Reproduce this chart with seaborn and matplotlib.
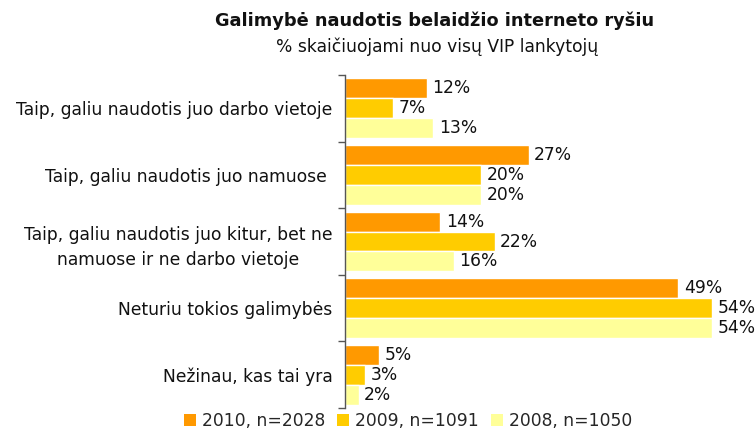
import matplotlib
matplotlib.use("Agg")
import matplotlib.pyplot as plt
import seaborn as sns
import pandas as pd
from matplotlib.patches import Patch

categories = [
    "Taip, galiu naudotis juo darbo vietoje",
    "Taip, galiu naudotis juo namuose ",
    "Taip, galiu naudotis juo kitur, bet ne\nnamuose ir ne darbo vietoje",
    "Neturiu tokios galimybės",
    "Nežinau, kas tai yra",
]
series_names = ["2010, n=2028", "2009, n=1091", "2008, n=1050"]
values_2010 = [12, 27, 14, 49, 5]
values_2009 = [7, 20, 22, 54, 3]
values_2008 = [13, 20, 16, 54, 2]
colors = ["#FF9900", "#FFCC00", "#FFFF99"]

rows = []
for name, vals in zip(series_names, [values_2010, values_2009, values_2008]):
    for c, v in zip(categories, vals):
        rows.append({"cat": c, "series": name, "val": v})
df = pd.DataFrame(rows)

sns.set_theme(style="white")
plt.rcParams["font.family"] = ["DejaVu Sans"]

fig = plt.figure(figsize=(7.55, 4.32), dpi=100)
ax = fig.add_axes([345 / 755, 1 - 408 / 432, 408 / 755, 333 / 432])

sns.barplot(data=df, y="cat", x="val", hue="series", order=categories,
            hue_order=series_names, palette=colors, saturation=1, orient="h", width=0.9,
            edgecolor="white", linewidth=1, ax=ax, legend=False)

for cont in ax.containers:
    ax.bar_label(cont, labels=[f"{v:.0f}%" for v in cont.datavalues],
                 padding=4, fontsize=12.3, color="#111111", clip_on=False)

ax.set_xlim(0, 60)
ax.set_ylim(4.5, -0.5)
ax.set_xlabel("")
ax.set_ylabel("")
ax.set_xticks([])
for s in ["top", "right", "bottom"]:
    ax.spines[s].set_visible(False)
ax.spines["left"].set_color("#555555")
ax.spines["left"].set_linewidth(1)

ax.set_yticks(range(len(categories)))
ax.set_yticklabels(categories, fontsize=12.3, color="#111111",
                   multialignment="center", linespacing=1.55)
ax.tick_params(axis="y", which="major", length=0, pad=9)
ax.set_yticks([i - 0.5 for i in range(len(categories) + 1)], minor=True)
ax.tick_params(axis="y", which="minor", left=True, length=5, width=1,
               color="#555555", direction="out")

fig.text(435 / 755, 1 - 21 / 432, "Galimybė naudotis belaidžio interneto ryšiu",
         ha="center", va="center", fontsize=12.8, fontweight="bold", color="#111111")
fig.text(437 / 755, 1 - 47 / 432, "% skaičiuojami nuo visų VIP lankytojų",
         ha="center", va="center", fontsize=12.3, color="#111111")

handles = [Patch(facecolor=c, edgecolor="none") for c in colors]
fig.legend(handles, series_names, loc="center", bbox_to_anchor=(408 / 755, 1 - 421 / 432),
           ncol=3, frameon=False, fontsize=12.3, handlelength=0.7, handleheight=0.7,
           handletextpad=0.35, columnspacing=0.7, borderaxespad=0, borderpad=0)

fig.savefig("out.png", dpi=100)
